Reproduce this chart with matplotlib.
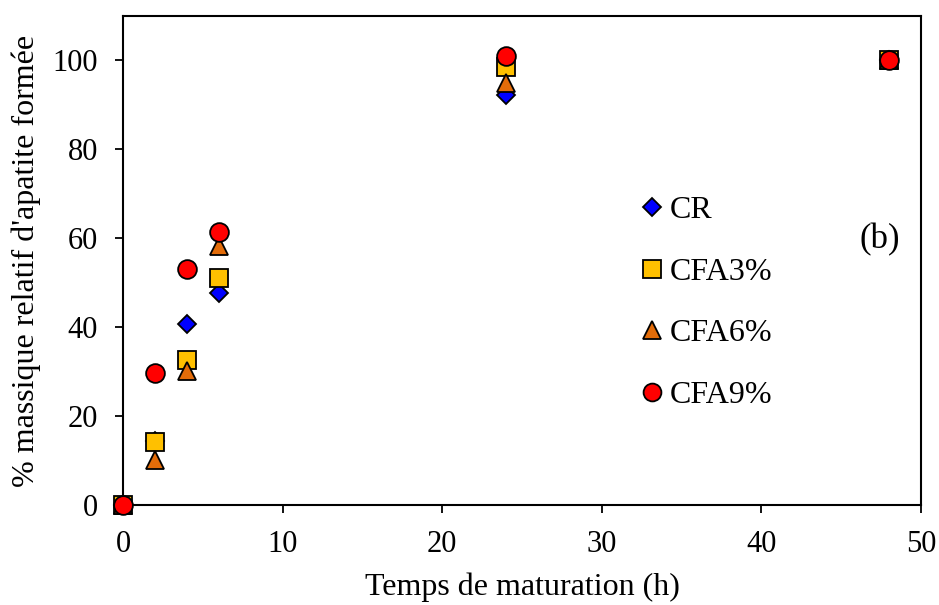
import matplotlib
matplotlib.use("Agg")
import matplotlib.pyplot as plt

plt.rcParams['font.family'] = ['Liberation Serif', 'DejaVu Serif']
plt.rcParams['mathtext.fontset'] = 'stix'

time_h = [0, 2, 4, 6, 24, 48]
cr = [0, 14.5, 40.8, 47.7, 92.3, 100]
cfa3 = [0, 14.2, 32.6, 51.1, 98.6, 100]
cfa6 = [0, 10.2, 30.2, 58.2, 95.0, 100]
cfa9 = [0, 29.7, 53.0, 61.4, 101.0, 100]

series = [
    ("CR", cr, 'D', '#0000FF', 9.3),
    ("CFA3%", cfa3, 's', '#FFC000', 13.5),
    ("CFA6%", cfa6, '^', '#E36C09', 13.5),
    ("CFA9%", cfa9, 'o', '#FF0000', 13.5),
]

fig = plt.figure(figsize=(9.39, 6.05), dpi=100)
W, H = 939, 605
left, right, top, bottom = 123, 921, 16, 505
ax = fig.add_axes([left / W, (H - bottom) / H, (right - left) / W, (bottom - top) / H])

for name, vals, mk, col, ms in series:
    ax.plot(time_h, vals, linestyle='none', marker=mk, markersize=ms,
            markerfacecolor=col, markeredgecolor='black', markeredgewidth=1.3,
            label=name, clip_on=False, zorder=3)

ax.set_xlim(0, 50)
ax.set_ylim(0, 110)
ax.set_xticks([0, 10, 20, 30, 40, 50])
ax.set_yticks([0, 20, 40, 60, 80, 100])
for s in ax.spines.values():
    s.set_linewidth(1.5)
ax.tick_params(axis='both', direction='out', length=6, width=1.3,
               labelsize=22, pad=12)

ax.set_xlabel("Temps de maturation (h)", fontsize=23, labelpad=10)
ax.set_ylabel("% massique relatif d'apatite formée", fontsize=23, labelpad=8)

ax.text(47.4, 59.7, "(b)", fontsize=25, ha='center', va='center')

leg = ax.legend(loc='upper left', bbox_to_anchor=(0.621, 0.665), frameon=False,
                fontsize=23, handletextpad=0.0, labelspacing=1.01,
                borderpad=0, handlelength=1.1, markerscale=0.95)

fig.savefig("out.png", dpi=100)
